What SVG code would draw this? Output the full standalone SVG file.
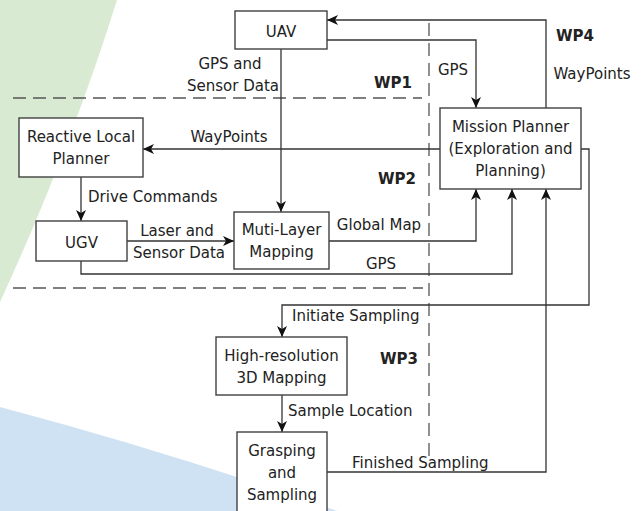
<svg xmlns="http://www.w3.org/2000/svg" width="644" height="511" viewBox="0 0 644 511">
<style>
.box{fill:#ffffff;stroke:#404040;stroke-width:1.4}
.ln{fill:none;stroke:#333333;stroke-width:1.3}
.dash{fill:none;stroke:#555555;stroke-width:1.3;stroke-dasharray:13 7}
text{font-family:"DejaVu Sans","Liberation Sans",sans-serif;font-size:15px;fill:#222222}
.c{text-anchor:middle}
.b{font-weight:bold}
</style>
<defs>
<marker id="ah" markerUnits="userSpaceOnUse" markerWidth="12" markerHeight="10" refX="11" refY="5" orient="auto">
<path d="M0,0 L11,5 L0,10 L3,5 Z" fill="#111111"/>
</marker>
</defs>
<g id="background">
<path d="M0,0 L117,0 Q70,150 0,302 Z" fill="#d9ead3"/>
<path d="M0,407 Q170,452 337,511 L0,511 Z" fill="#cfe2f3"/>
</g>
<g id="regions">
<path class="dash" d="M13,98 H422"/>
<path class="dash" d="M13,288 H423"/>
<path class="dash" d="M429,23 V458"/>
<text class="b" x="374" y="88">WP1</text>
<text class="b" x="378" y="184">WP2</text>
<text class="b" x="380" y="364">WP3</text>
<text class="b" x="556" y="41">WP4</text>
</g>
<g id="connectors">
<path class="ln" d="M327,40 H476 V108" marker-end="url(#ah)"/>
<path class="ln" d="M546,108 V20 H327" marker-end="url(#ah)"/>
<path class="ln" d="M281,49 V212" marker-end="url(#ah)"/>
<path class="ln" d="M440,149 H143" marker-end="url(#ah)"/>
<path class="ln" d="M81,177 V221" marker-end="url(#ah)"/>
<path class="ln" d="M127,241 H234" marker-end="url(#ah)"/>
<path class="ln" d="M329,241 H476 V189" marker-end="url(#ah)"/>
<path class="ln" d="M81,261 V274 H512 V189" marker-end="url(#ah)"/>
<path class="ln" d="M581,149 H589 V305 H282 V337" marker-end="url(#ah)"/>
<path class="ln" d="M282,395 V432" marker-end="url(#ah)"/>
<path class="ln" d="M327,472 H546 V189" marker-end="url(#ah)"/>
<text class="c" x="230" y="69">GPS and</text>
<text class="c" x="233" y="91">Sensor Data</text>
<text class="c" x="453" y="75">GPS</text>
<text class="c" x="592" y="79">WayPoints</text>
<text class="c" x="229" y="142">WayPoints</text>
<text x="88" y="202">Drive Commands</text>
<text class="c" x="177" y="236">Laser and</text>
<text class="c" x="179" y="258">Sensor Data</text>
<text class="c" x="379" y="230">Global Map</text>
<text class="c" x="381" y="269">GPS</text>
<text x="292" y="321">Initiate Sampling</text>
<text x="288" y="416">Sample Location</text>
<text x="352" y="468">Finished Sampling</text>
</g>
<g id="uav">
<rect class="box" x="235" y="11" width="92" height="38"/>
<text class="c" x="281" y="37">UAV</text>
</g>
<g id="mission-planner">
<rect class="box" x="440" y="108" width="141" height="81"/>
<text class="c" x="510.5" y="132">Mission Planner</text>
<text class="c" x="510.5" y="154">(Exploration and</text>
<text class="c" x="510.5" y="176">Planning)</text>
</g>
<g id="reactive-local-planner">
<rect class="box" x="19" y="118" width="124" height="59"/>
<text class="c" x="81" y="142">Reactive Local</text>
<text class="c" x="81" y="164">Planner</text>
</g>
<g id="ugv">
<rect class="box" x="36" y="221" width="91" height="40"/>
<text class="c" x="81.5" y="248">UGV</text>
</g>
<g id="multi-layer-mapping">
<rect class="box" x="234" y="212" width="95" height="57"/>
<text class="c" x="281.5" y="235">Muti-Layer</text>
<text class="c" x="281.5" y="257">Mapping</text>
</g>
<g id="high-resolution-mapping">
<rect class="box" x="216" y="337" width="131" height="58"/>
<text class="c" x="281.5" y="361">High-resolution</text>
<text class="c" x="281.5" y="383">3D Mapping</text>
</g>
<g id="grasping-sampling">
<rect class="box" x="237" y="432" width="90" height="90"/>
<text class="c" x="282" y="456">Grasping</text>
<text class="c" x="282" y="478">and</text>
<text class="c" x="282" y="500">Sampling</text>
</g>
</svg>
